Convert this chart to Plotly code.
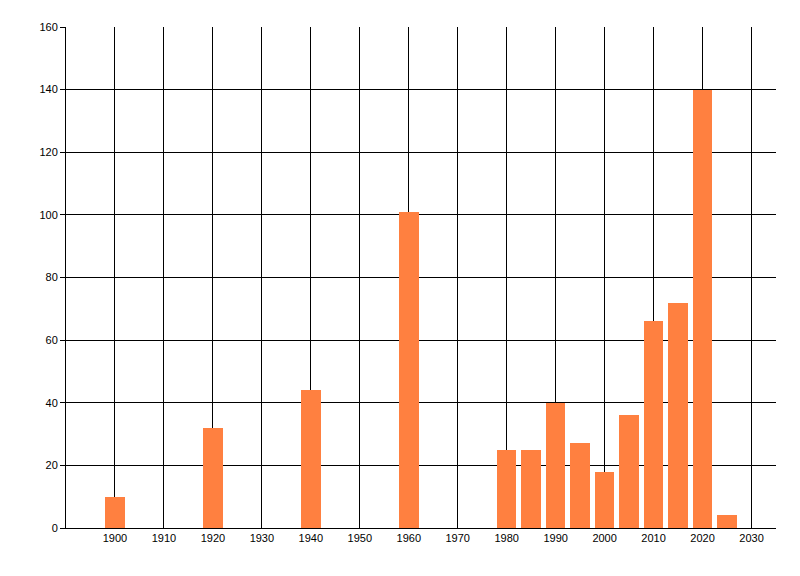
import plotly.graph_objects as go

years = [1900, 1920, 1940, 1960, 1980, 1985, 1990, 1995, 2000, 2005, 2010, 2015, 2020, 2025]
values = [10, 32, 44, 101, 25, 25, 40, 27, 18, 36, 66, 72, 140, 4]
x_ticks = list(range(1900, 2031, 10))
y_ticks = list(range(0, 161, 20))

fig = go.Figure(go.Bar(x=years, y=values, width=4, marker=dict(color="#FF8040", line=dict(width=0))))

fig.update_layout(
    width=800, height=576,
    margin=dict(l=58, r=32, t=19, b=56),
    paper_bgcolor="white", plot_bgcolor="white",
    font=dict(family="Liberation Sans, Arial, sans-serif", size=11, color="black"),
    showlegend=False,
    bargap=0,
)
fig.update_xaxes(
    range=[1890, 2035], tickvals=x_ticks, ticktext=[str(t) for t in x_ticks],
    showgrid=True, gridcolor="black", gridwidth=1,
    showline=True, linecolor="black", linewidth=1,
    ticks="", zeroline=False, fixedrange=True,
)
fig.update_yaxes(
    range=[0, 160], tickvals=y_ticks,
    showgrid=True, gridcolor="black", gridwidth=1,
    showline=True, linecolor="black", linewidth=1,
    ticks="outside", ticklen=5, tickcolor="black", zeroline=False,
)
fig.write_html("out.html")
